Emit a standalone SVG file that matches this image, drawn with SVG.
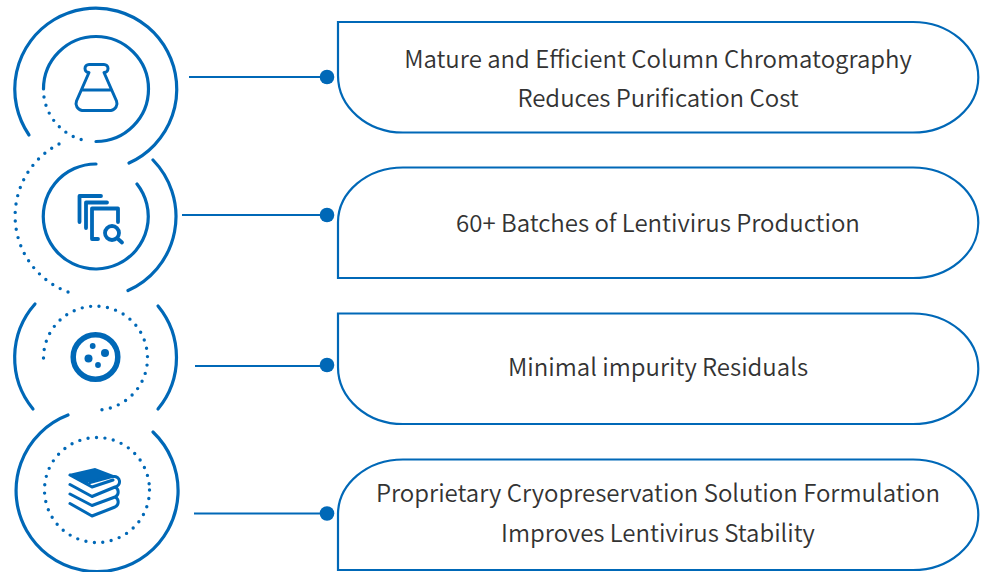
<svg xmlns="http://www.w3.org/2000/svg" width="984" height="572" viewBox="0 0 984 572">
<style>
.s{fill:none;stroke:#0068b7;stroke-width:3.200;stroke-linecap:round}
.d{fill:none;stroke:#0068b7;stroke-width:3.400;stroke-linecap:round;stroke-dasharray:0 8.500}
.i{fill:none;stroke:#0068b7;stroke-width:3;stroke-linejoin:round;stroke-linecap:round}
.i2{fill:none;stroke:#0068b7;stroke-width:3.800;stroke-linejoin:round;stroke-linecap:round}
.f{fill:#0068b7}
.b{fill:#fff;stroke:#0068b7;stroke-width:2.200}
.c{stroke:#0068b7;stroke-width:2;fill:none}
text{font-family:"Noto Sans CJK SC","Noto Sans",sans-serif;font-size:24px;font-weight:350;fill:#333;text-anchor:middle}
</style>
<rect width="984" height="572" fill="#fff"/>
<g id="connectors">
<path class="c" d="M189,77H327M182,215H327M195,366H327M194,513.500H327"/>
<circle class="f" cx="327" cy="77" r="7.300"/>
<circle class="f" cx="327" cy="215" r="7.300"/>
<circle class="f" cx="327" cy="365" r="7.300"/>
<circle class="f" cx="327" cy="513.500" r="7.300"/>
</g>
<g id="icon-1">
<path class="s" d="M29,135A81,81 0 1 1 129,163"/>
<path class="s" d="M43.500,89A52.500,52.500 0 1 1 96,141.500"/>
<path class="d" d="M44,97A52.500,52.500 0 0 0 88,141"/>
<path class="i" d="M89,64.500H104A4,4 0 0 1 104,72.500L116.500,101A7,7 0 0 1 111,110.500H82A7,7 0 0 1 76.500,101L89,72.500A4,4 0 0 1 89,64.500ZM83,90H110"/>
</g>
<g id="icon-2">
<path class="s" d="M96,164A52.500,52.500 0 1 0 137,184"/>
<path class="s" d="M153,160A81,81 0 0 1 128,290.500"/>
<path class="d" d="M59,144A81,81 0 0 0 71,293"/>
<path class="i2" d="M79.500,222V196H101M86,228V202.500H107M98,239H92V208.500H118V222"/>
<circle class="i2" cx="112" cy="233" r="7"/>
<path class="i2" d="M117.500,238.500L122,242.500"/>
</g>
<g id="icon-3">
<path class="s" d="M35,304A81,81 0 0 0 33,409"/>
<path class="s" d="M158,306A81,81 0 0 1 158,409"/>
<path class="d" d="M43.500,358A52,52 0 1 1 99,410"/>
<circle cx="95.500" cy="357" r="22.300" fill="none" stroke="#0068b7" stroke-width="5.500"/>
<circle class="f" cx="92.700" cy="346" r="2.900"/>
<circle class="f" cx="105" cy="353" r="4"/>
<circle class="f" cx="88.500" cy="358.500" r="4"/>
<circle class="f" cx="98" cy="365" r="2.900"/>
</g>
<g id="icon-4">
<path class="s" d="M68,415A81,81 0 1 0 153,432"/>
<circle class="d" cx="97" cy="490" r="52.500"/>
<path class="f" d="M69,474L95,468L116,476L112,477L88,482.500L92,486Z"/>
<path class="i" d="M90,482.500L112,476.500H113.500A5,5 0 0 1 115,487L92,496.500L70,484.500M115,487A5.500,5.500 0 0 1 115,497L92,505.500L70,494M115,497A5.500,5.500 0 0 1 115,507L92,516L70,503.500M70,475L92,487L113,480"/>
</g>
<g id="box-1">
<path class="b" d="M338,22H913A65,55 0 0 1 913,132.500H403A65,57 0 0 1 338,75.500Z"/>
<text x="658" y="68">Mature and Efficient Column Chromatography</text>
<text x="658" y="107">Reduces Purification Cost</text>
</g>
<g id="box-2">
<path class="b" d="M403,167.500H913A65,55 0 0 1 913,278H338V222A65,55 0 0 1 403,167.500Z"/>
<text x="658" y="232">60+ Batches of Lentivirus Production</text>
</g>
<g id="box-3">
<path class="b" d="M338,313.500H913A65,55 0 0 1 913,424H403A65,57 0 0 1 338,367Z"/>
<text x="658" y="376">Minimal impurity Residuals</text>
</g>
<g id="box-4">
<path class="b" d="M403,459.500H913A65,55 0 0 1 913,570H338V514A65,55 0 0 1 403,459.500Z"/>
<text x="658" y="502">Proprietary Cryopreservation Solution Formulation</text>
<text x="658" y="542">Improves Lentivirus Stability</text>
</g>
</svg>
